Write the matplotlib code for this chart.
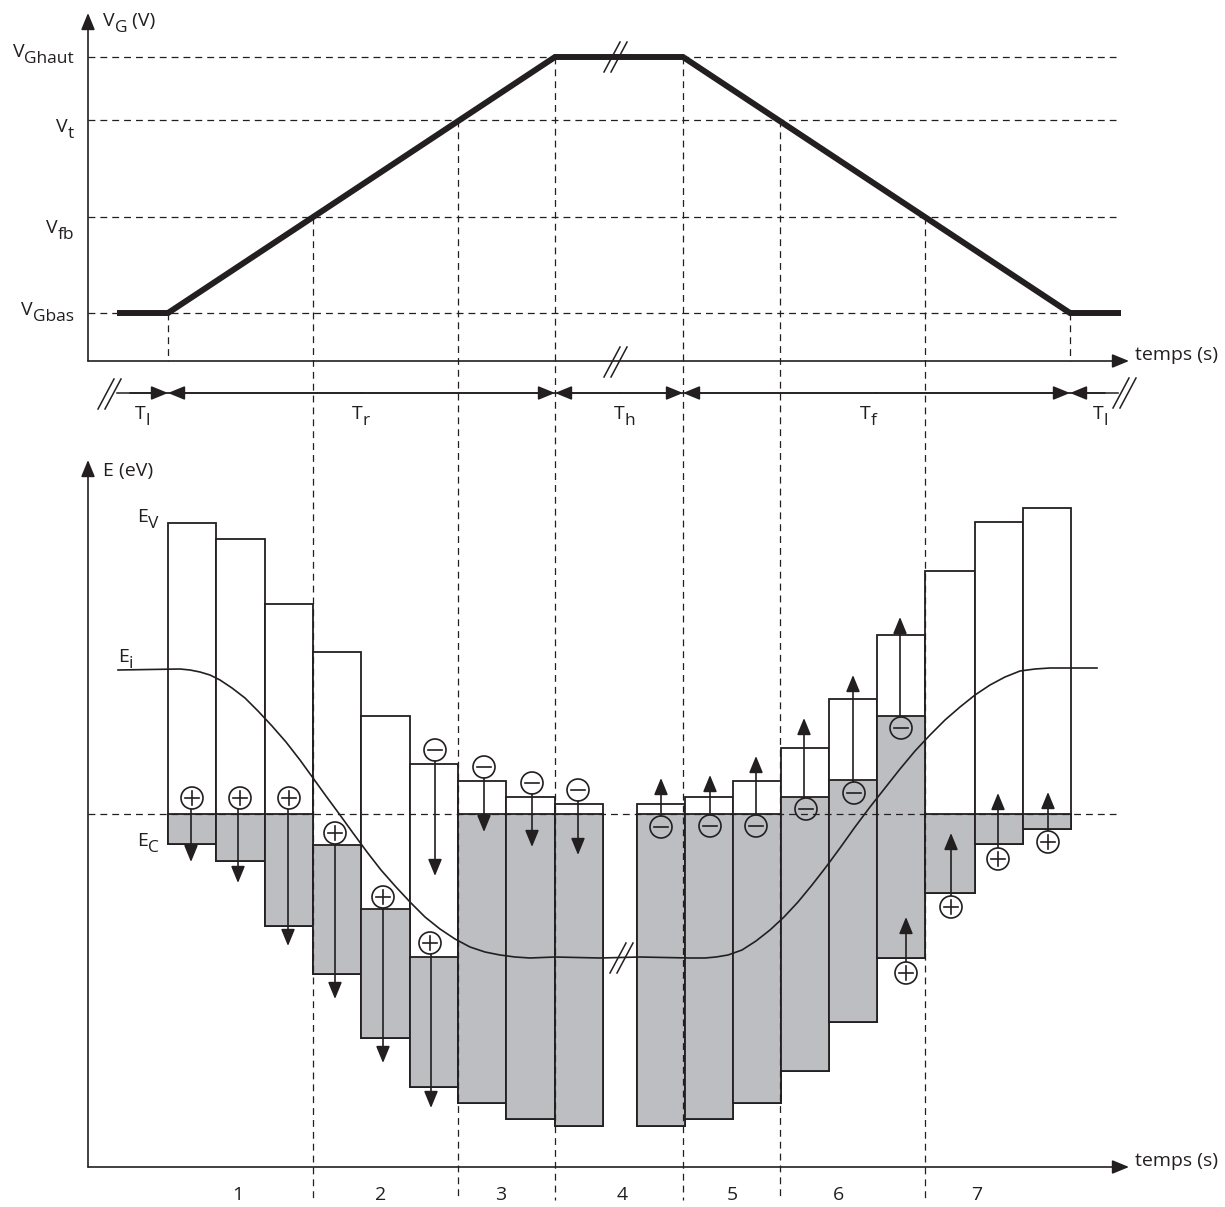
import matplotlib.pyplot as plt

plt.rcParams['font.family'] = ['Open Sans', 'DejaVu Sans']

INK = '#231f20'
GRAY = '#bcbec1'

# ---- top panel : gate voltage vs time (pixel coordinates of the drawing)
vg_levels = [57, 120, 217, 313]
vg_main = ['V', 'V', 'V', 'V']
vg_sub = ['Ghaut', 't', 'fb', 'Gbas']
vg_label_base = [57, 132, 233, 315]
vg_t = [120, 168, 555, 683, 1070, 1118]
vg_v = [313, 313, 57, 57, 313, 313]

# vertical dashed markers: x, top and bottom of the dash
marks_x = [168, 313, 458, 555, 683, 780, 925, 1070]
marks_top = [313, 217, 120, 57, 57, 120, 217, 313]
marks_bot = [361, 1200, 1200, 1200, 1200, 1200, 1200, 361]

t_bounds = [117, 168, 555, 683, 1070, 1118]
t_sub = ['l', 'r', 'h', 'f', 'l']
t_name_x = [135, 352, 614, 860, 1093]

# ---- bottom panel : band diagrams
bar_x0 = [168, 216, 265, 313, 361, 410, 458, 506, 555,
          637, 685, 733, 781, 829, 877, 925, 975, 1023]
bar_x1 = [216, 265, 313, 361, 410, 458, 506, 555, 603,
          685, 733, 781, 829, 877, 925, 975, 1023, 1071]
ev_top = [523, 539, 604, 652, 716, 764, 781, 797, 804,
          804, 797, 781, 748, 699, 635, 571, 522, 508]
gray_top = [814, 814, 814, 845, 909, 957, 814, 814, 814,
            814, 814, 814, 797, 780, 716, 814, 814, 814]
ec_bot = [844, 861, 926, 974, 1038, 1087, 1103, 1119, 1126,
          1126, 1119, 1103, 1071, 1022, 958, 893, 844, 829]
e_ref = 814

ei_x = [118, 180, 190, 200, 210, 220, 232, 245, 258, 272, 286, 300, 313,
        326, 340, 353, 367, 381, 396, 410, 425, 440, 455, 470, 485, 500,
        515, 530, 555, 600, 640, 690, 705, 716, 728, 742, 756, 770, 784,
        798, 812, 826, 840, 855, 870, 885, 900, 915, 930, 945, 960, 975,
        990, 1005, 1020, 1035, 1050, 1097]
ei_y = [670, 669, 670, 672, 675, 680, 688, 698, 711, 726, 742, 760, 778,
        796, 815, 833, 852, 870, 887, 902, 917, 929, 939, 947, 952, 955,
        957, 958, 957, 958, 957, 958, 958, 957, 955, 950, 941, 930, 917,
        902, 885, 867, 848, 827, 807, 788, 769, 751, 735, 720, 707, 695,
        685, 677, 671, 669, 668, 668]

plus_x = [192, 240, 289, 335, 383, 430, 906, 951, 998, 1048]
plus_y = [798, 798, 798, 833, 897, 943, 973, 907, 859, 842]
minus_x = [435, 484, 532, 578, 661, 710, 756, 806, 854, 901]
minus_y = [750, 767, 783, 790, 827, 826, 826, 809, 793, 728]

arr_x = [191, 238, 288, 335, 383, 431, 435, 484, 532, 578,
         661, 710, 756, 804, 853, 900, 906, 951, 998, 1048]
arr_from = [809, 809, 809, 844, 908, 954, 761, 778, 794, 801,
            816, 815, 815, 798, 782, 717, 962, 896, 848, 831]
arr_to = [862, 883, 946, 999, 1063, 1108, 876, 832, 847, 855,
          778, 775, 756, 718, 675, 617, 917, 833, 793, 792]

zone_names = ['1', '2', '3', '4', '5', '6', '7']
zone_x = [238, 381, 501, 622, 732, 839, 977]


fig = plt.figure(figsize=(12.25, 12.07), dpi=100)
ax = fig.add_axes([0, 0, 1, 1])
ax.set_xlim(0, 1225)
ax.set_ylim(1207, 0)
ax.axis('off')
rend = fig.canvas.get_renderer()

MAIN = 14
SUB = 12.5

dash = dict(color=INK, lw=0.9, ls=(0, (5.5, 4)))
head = dict(arrowstyle='-|>,head_length=0.68,head_width=0.28', mutation_scale=15,
            color=INK, lw=1.2, shrinkA=0, shrinkB=0)


def arrow(x0, y0, x1, y1, z=5, **kw):
    props = dict(head)
    props.update(kw)
    ax.annotate('', xy=(x1, y1), xytext=(x0, y0), arrowprops=props,
                zorder=z)


def breakmark(x, y, h=30, sep=7):
    for dx in (0, sep):
        ax.plot([x + dx - 8, x + dx + 8], [y + h / 2, y - h / 2],
                color=INK, lw=1.1, zorder=8)


def sublabel(x, y, main, sub, rest='', ha='left', drop=6):
    # main letter, big subscript, optional trailing text (1 data unit = 1 px)
    parts = [(main, MAIN, 0), (sub, SUB, drop), (rest, MAIN, 0)]
    texts = []
    cx = x
    for s, size, dy in parts:
        if not s:
            continue
        t = ax.text(cx, y + dy, s, fontsize=size, ha='left', va='baseline',
                    color=INK)
        w = t.get_window_extent(rend).width
        texts.append((t, cx))
        cx += w
    if ha == 'right':
        shift = cx - x
        for t, px in texts:
            t.set_x(px - shift)


# top panel axes
arrow(88, 361, 88, 13)
arrow(88, 361, 1129, 361)
sublabel(103, 26, 'V', 'G', ' (V)')
ax.text(1135, 355, 'temps (s)', fontsize=MAIN, ha='left', va='center',
        color=INK)
for lev, m, s, base in zip(vg_levels, vg_main, vg_sub, vg_label_base):
    ax.plot([88, 1116], [lev, lev], **dash, zorder=1)
    sublabel(74, base, m, s, ha='right')
for x, y0, y1 in zip(marks_x, marks_top, marks_bot):
    ax.plot([x, x], [y0, y1], **dash, zorder=6)

ax.plot(vg_t, vg_v, color=INK, lw=4.3, solid_joinstyle='miter', zorder=4)
breakmark(612, 57)
breakmark(612, 362)

# time span arrows
for a, b in zip(t_bounds[:-1], t_bounds[1:]):
    ax.plot([a, b], [393, 393], color=INK, lw=1.1)
arrow(130, 393, 168, 393)
for a, b in zip(t_bounds[1:-2], t_bounds[2:-1]):
    arrow((a + b) / 2, 393, a, 393)
    arrow((a + b) / 2, 393, b, 393)
arrow(1105, 393, 1070, 393)
breakmark(106, 394)
breakmark(1121, 393)
for x, s in zip(t_name_x, t_sub):
    sublabel(x, 419, 'T', s)

# bottom panel axes
arrow(88, 1167, 88, 460)
arrow(88, 1167, 1129, 1167)
ax.text(103, 476, 'E (eV)', fontsize=MAIN, ha='left', va='baseline',
        color=INK)
ax.text(1135, 1161, 'temps (s)', fontsize=MAIN, ha='left', va='center',
        color=INK)
ax.plot([88, 1116], [e_ref, e_ref], **dash, zorder=6)
for x, name in zip(zone_x, zone_names):
    ax.text(x, 1195, name, fontsize=MAIN, ha='center', va='center',
            color=INK)

# bands
widths = [b - a for a, b in zip(bar_x0, bar_x1)]
ax.bar(bar_x0, [b - t for t, b in zip(ev_top, ec_bot)], bottom=ev_top,
       width=widths, align='edge', color='white', edgecolor=INK, lw=1.3,
       zorder=2)
ax.bar(bar_x0, [b - t for t, b in zip(gray_top, ec_bot)], bottom=gray_top,
       width=widths, align='edge', color=GRAY, edgecolor=INK, lw=1.3,
       zorder=3)

ax.plot(ei_x, ei_y, color=INK, lw=1.2, zorder=7)
breakmark(618, 958)

sublabel(137, 522, 'E', 'V')
sublabel(118, 662, 'E', 'i')
sublabel(137, 846, 'E', 'C')

# carriers
for x, y0, y1 in zip(arr_x, arr_from, arr_to):
    arrow(x, y0, x, y1, z=8)
r = 11
for x, y in zip(plus_x, plus_y):
    ax.add_patch(plt.Circle((x, y), r, facecolor='white', edgecolor=INK,
                            lw=1.2, zorder=9))
    ax.plot([x - 7, x + 7], [y, y], color=INK, lw=1.2, zorder=10)
    ax.plot([x, x], [y - 7, y + 7], color=INK, lw=1.2, zorder=10)
for x, y in zip(minus_x, minus_y):
    ax.add_patch(plt.Circle((x, y), r, facecolor='none', edgecolor=INK,
                            lw=1.2, zorder=9))
    ax.plot([x - 7, x + 7], [y, y], color=INK, lw=1.2, zorder=10)

fig.savefig('out.png', dpi=100)
